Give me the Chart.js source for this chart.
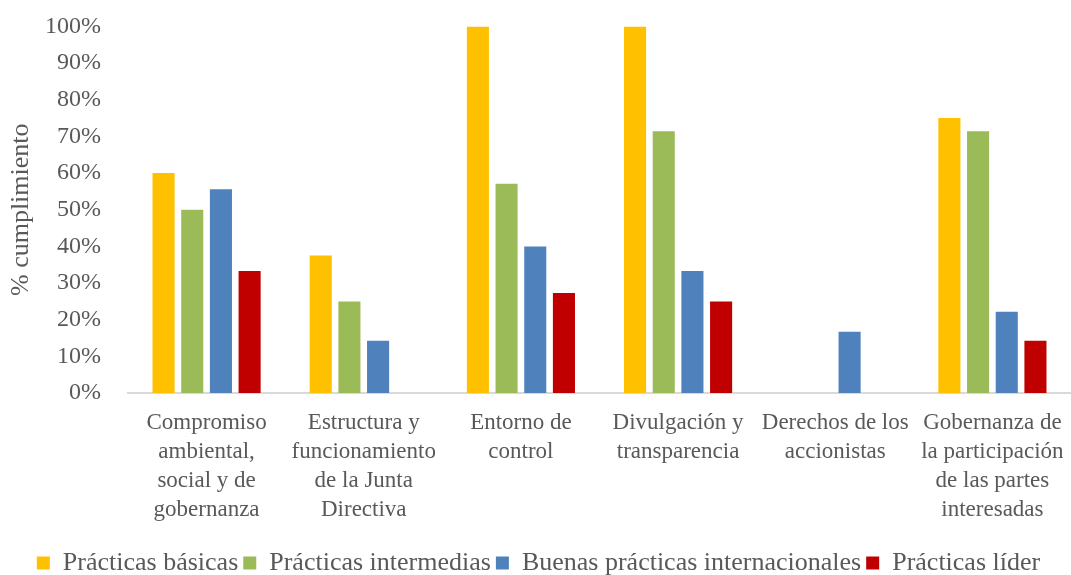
<!DOCTYPE html>
<html>
<head>
<meta charset="utf-8">
<script src="https://cdn.jsdelivr.net/npm/chart.js@4"></script>
<style>
  html, body { margin: 0; padding: 0; background: #fff; }
  #wrap { width: 1071px; height: 575px; }
</style>
</head>
<body>
<div id="wrap"><canvas id="graph_bar" width="1071" height="575"></canvas></div>
<script>
'use strict';

// categorías (multilínea como en el original)
const categories = [
    ['Compromiso', 'ambiental,', 'social y de', 'gobernanza'],
    ['Estructura y', 'funcionamiento', 'de la Junta', 'Directiva'],
    ['Entorno de', 'control'],
    ['Divulgación y', 'transparencia'],
    ['Derechos de los', 'accionistas'],
    ['Gobernanza de', 'la participación', 'de las partes', 'interesadas']
];

const seriesNames = ['Prácticas básicas', 'Prácticas intermedias', 'Buenas prácticas internacionales', 'Prácticas líder'];
const seriesColors = ['#FFC000', '#9BBB59', '#4F81BD', '#C00000'];

// % cumplimiento
const basicas = [60, 37.5, 100, 100, 0, 75];
const intermedias = [50, 25, 57.1, 71.4, 0, 71.4];
const internacionales = [55.6, 14.3, 40, 33.3, 16.7, 22.2];
const lider = [33.3, 0, 27.3, 25, 0, 14.3];

const yTicks = [0, 10, 20, 30, 40, 50, 60, 70, 80, 90, 100];

const font = 'Liberation Serif, Times New Roman, serif';
const grey = '#595959';

window.onload = function () {
    const seriesData = [basicas, intermedias, internacionales, lider];
    const datasets = seriesData.map(function (d, i) {
        return {
            label: seriesNames[i],
            data: d,
            backgroundColor: seriesColors[i],
            borderWidth: 0,
            categoryPercentage: 0.73,
            barPercentage: 0.77
        };
    });

    let ctx = document.querySelector('#graph_bar').getContext('2d');
    new Chart(ctx, {
        type: 'bar',
        data: {
            labels: categories,
            datasets: datasets
        },
        options: {
            responsive: false,
            animation: false,
            layout: { padding: { left: 6, right: 0, top: 0, bottom: -11 } },
            plugins: {
                legend: {
                    position: 'bottom',
                    labels: {
                        color: grey,
                        font: { family: font, size: 26 },
                        boxWidth: 13,
                        boxHeight: 13,
                        padding: 5
                    }
                },
                tooltip: { enabled: false }
            },
            scales: {
                x: {
                    afterFit: function (axis) {
                        axis.height += 14; // hueco entre etiquetas y leyenda
                    },
                    grid: { display: false },
                    border: { display: true, color: '#D9D9D9', width: 2 },
                    ticks: {
                        color: grey,
                        font: { family: font, size: 23, lineHeight: 1.26 },
                        maxRotation: 0,
                        autoSkip: false,
                        padding: 7
                    }
                },
                y: {
                    min: 0,
                    max: 100,
                    afterBuildTicks: function (axis) {
                        axis.ticks = yTicks.map(function (v) { return { value: v }; });
                    },
                    afterFit: function (axis) {
                        axis.width = 122;
                    },
                    grid: { display: false, drawTicks: true, tickLength: 15 },
                    border: { display: false },
                    ticks: {
                        color: grey,
                        font: { family: font, size: 24 },
                        padding: 12,
                        callback: function (v) { return v + '%'; }
                    },
                    title: {
                        display: true,
                        text: '% cumplimiento',
                        color: grey,
                        font: { family: font, size: 26 },
                        padding: { top: 0, bottom: 0 }
                    }
                }
            }
        }
    });
};
</script>
</body>
</html>
